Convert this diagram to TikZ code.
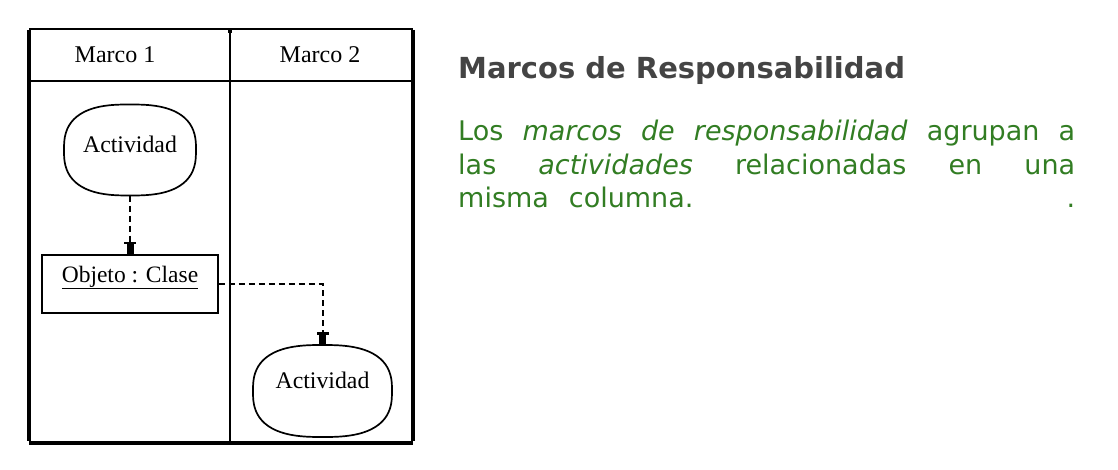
\documentclass[tikz,border=0pt]{standalone}
\usepackage{fontspec}
\setmainfont{Liberation Serif}
\newfontfamily\versans{DejaVu Sans}
\usetikzlibrary{arrows.meta}
\definecolor{titlegray}{RGB}{68,68,68}
\definecolor{bodygreen}{RGB}{50,125,35}
\begin{document}
\begin{tikzpicture}[x=1pt,y=-1pt,
  thinframe/.style={line width=2pt},
  thickframe/.style={line width=4pt},
  activity/.style={minimum width=132pt, minimum height=91pt, inner sep=0pt, font=\fontsize{23.8}{26}\selectfont},
  actline/.style={line width=1.7pt},
  objectbox/.style={draw, line width=1.5pt, minimum width=176pt, minimum height=58pt, inner sep=0pt, font=\fontsize{23.5}{26}\selectfont, text height=15pt, text depth=19pt},
  flow/.style={line width=2pt, dash pattern=on 6pt off 4pt, -{Bar[width=12pt,line width=2.5pt] Rectangle[width=7pt,length=10pt]}},
  header/.style={font=\fontsize{24}{27}\selectfont},
  title/.style={font=\versans\bfseries\fontsize{29}{33}\selectfont, text=titlegray, inner sep=0pt},
  body/.style={font=\versans\fontsize{27}{33.5}\selectfont, text=bodygreen, inner sep=0pt, align=left},
]
\useasboundingbox (0,0) rectangle (1118,470);
% frame
\coordinate (tl) at (29,29);
\coordinate (tr) at (413,29);
\coordinate (bl) at (29,443);
\coordinate (br) at (413,443);
\coordinate (hl) at (29,81);
\coordinate (hr) at (413,81);
\coordinate (mt) at (230,29);
\coordinate (mb) at (230,443);
\coordinate (mtick) at (230,33);
\draw[thinframe] (tl) -- (tr);
\draw[line width=3.2pt] ([yshift=-1pt]tl) -- ([yshift=2pt]bl);
\draw[thickframe] ([yshift=-1pt]tr) -- ([yshift=2pt]br);
\draw[thickframe] (bl) -- (br);
\draw[thinframe] (hl) -- (hr);
\draw[thinframe] (mt) -- (mb);
\draw[line width=4pt] (mt) -- (mtick);
% headers
\node[header] (m1) at (115,55) {Marco 1};
\node[header] (m2) at (320,55) {Marco 2};
% activities and object
\node[activity, text height=15pt, text depth=9pt] (a1) at (130,150) {Actividad};
\draw[actline, shift={(a1.center)}] plot[domain=1:361, samples=73, smooth cycle]
  ({66*sign(cos(\x))*pow(abs(cos(\x)),0.75)}, {45.5*sign(sin(\x))*pow(abs(sin(\x)),0.75)});
\node[objectbox] (obj) at (130,284) {\underline{Objeto : Clase}};
\node[activity, minimum width=139pt, minimum height=92pt, text height=15pt, text depth=21pt] (a2) at (322.5,391) {Actividad};
\draw[actline, shift={(a2.center)}] plot[domain=1:361, samples=73, smooth cycle]
  ({69.5*sign(cos(\x))*pow(abs(cos(\x)),0.75)}, {46*sign(sin(\x))*pow(abs(sin(\x)),0.75)});
\draw[flow] (a1) -- (obj);
\draw[flow] (obj.east) -| (a2.north);
% text
\node[title, anchor=base west] (t) at (458,79) {Marcos de Responsabilidad};
\node[body, anchor=base west] (b) at (458,208) {%
\makebox[617pt][s]{Los \textit{marcos de responsabilidad} agrupan a}\\
\makebox[617pt][s]{las \textit{actividades} relacionadas en una}\\
\makebox[617pt][l]{misma\hspace{20pt}columna.\hfill.}};
\end{tikzpicture}
\end{document}
